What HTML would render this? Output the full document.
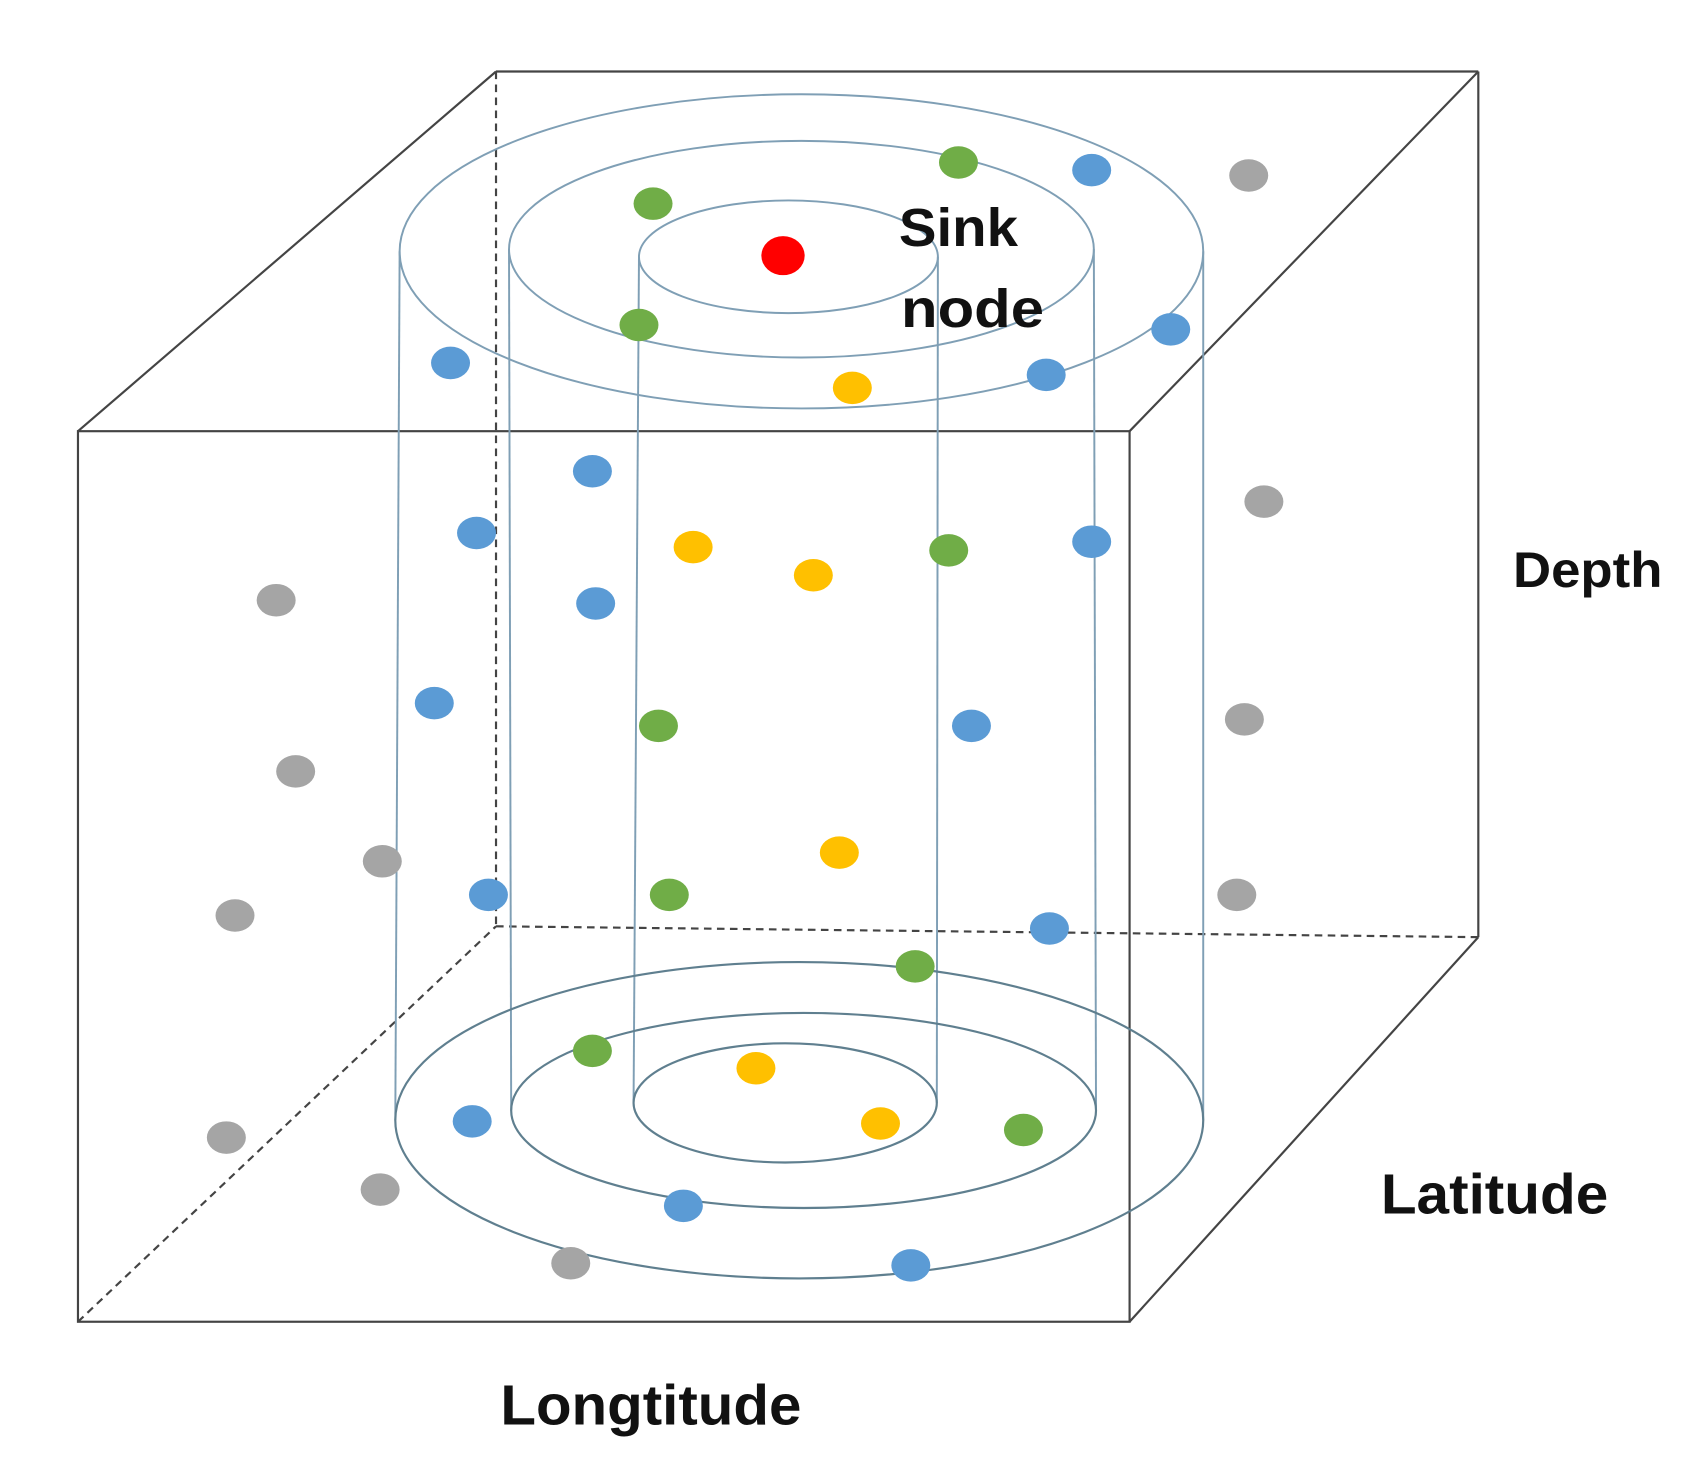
<!DOCTYPE html>
<html><head><style>html,body{margin:0;padding:0;background:#fff}svg{display:block}</style></head>
<body>
<svg width="1696" height="1468" viewBox="0 0 1566 1355" preserveAspectRatio="none" xmlns="http://www.w3.org/2000/svg">
<rect width="1566" height="1355" fill="#fff"/>
<g stroke="#444" stroke-width="2" fill="none">
<line x1="458" y1="66" x2="1365" y2="66"/>
<line x1="1365" y1="66" x2="1365" y2="865"/>
<line x1="72" y1="398" x2="458" y2="66"/>
<line x1="1043" y1="398" x2="1365" y2="66"/>
<line x1="1043" y1="1220" x2="1365" y2="865"/>
<rect x="72" y="398" width="971" height="822"/>
<g stroke-dasharray="7,5">
<line x1="458" y1="66" x2="458" y2="855"/>
<line x1="458" y1="855" x2="1365" y2="865"/>
<line x1="72" y1="1220" x2="458" y2="855"/>
</g>
</g>
<g fill="none" stroke="#7f9fb5" stroke-width="1.8">
<ellipse cx="740" cy="232" rx="371" ry="145"/>
<ellipse cx="740" cy="230" rx="270" ry="100"/>
<ellipse cx="728" cy="237" rx="138" ry="52"/>
<line x1="369" y1="232" x2="365" y2="1034"/>
<line x1="1111" y1="232" x2="1111" y2="1034"/>
<line x1="470" y1="230" x2="472" y2="1025"/>
<line x1="1010" y1="230" x2="1012" y2="1025"/>
<line x1="590" y1="237" x2="585" y2="1018"/>
<line x1="866" y1="237" x2="865" y2="1018"/>
</g>
<g fill="none" stroke="#5f7f8f" stroke-width="2">
<ellipse cx="738" cy="1034" rx="373" ry="146"/>
<ellipse cx="742" cy="1025" rx="270" ry="90"/>
<ellipse cx="725" cy="1018" rx="140" ry="55"/>
</g>
<g fill="#70ad47">
<ellipse cx="885" cy="150" rx="18" ry="15"/><ellipse cx="603" cy="188" rx="18" ry="15"/><ellipse cx="590" cy="300" rx="18" ry="15"/><ellipse cx="876" cy="508" rx="18" ry="15"/><ellipse cx="608" cy="670" rx="18" ry="15"/><ellipse cx="618" cy="826" rx="18" ry="15"/><ellipse cx="845" cy="892" rx="18" ry="15"/><ellipse cx="547" cy="970" rx="18" ry="15"/><ellipse cx="945" cy="1043" rx="18" ry="15"/>
</g>
<g fill="#5b9bd5">
<ellipse cx="1008" cy="157" rx="18" ry="15"/><ellipse cx="1081" cy="304" rx="18" ry="15"/><ellipse cx="966" cy="346" rx="18" ry="15"/><ellipse cx="416" cy="335" rx="18" ry="15"/><ellipse cx="547" cy="435" rx="18" ry="15"/><ellipse cx="440" cy="492" rx="18" ry="15"/><ellipse cx="550" cy="557" rx="18" ry="15"/><ellipse cx="1008" cy="500" rx="18" ry="15"/><ellipse cx="401" cy="649" rx="18" ry="15"/><ellipse cx="897" cy="670" rx="18" ry="15"/><ellipse cx="451" cy="826" rx="18" ry="15"/><ellipse cx="969" cy="857" rx="18" ry="15"/><ellipse cx="436" cy="1035" rx="18" ry="15"/><ellipse cx="631" cy="1113" rx="18" ry="15"/><ellipse cx="841" cy="1168" rx="18" ry="15"/>
</g>
<g fill="#a5a5a5">
<ellipse cx="1153" cy="162" rx="18" ry="15"/><ellipse cx="1167" cy="463" rx="18" ry="15"/><ellipse cx="255" cy="554" rx="18" ry="15"/><ellipse cx="1149" cy="664" rx="18" ry="15"/><ellipse cx="273" cy="712" rx="18" ry="15"/><ellipse cx="353" cy="795" rx="18" ry="15"/><ellipse cx="1142" cy="826" rx="18" ry="15"/><ellipse cx="217" cy="845" rx="18" ry="15"/><ellipse cx="209" cy="1050" rx="18" ry="15"/><ellipse cx="351" cy="1098" rx="18" ry="15"/><ellipse cx="527" cy="1166" rx="18" ry="15"/>
</g>
<g fill="#ffc000">
<ellipse cx="787" cy="358" rx="18" ry="15"/><ellipse cx="640" cy="505" rx="18" ry="15"/><ellipse cx="751" cy="531" rx="18" ry="15"/><ellipse cx="775" cy="787" rx="18" ry="15"/><ellipse cx="698" cy="986" rx="18" ry="15"/><ellipse cx="813" cy="1037" rx="18" ry="15"/>
</g>
<ellipse cx="723" cy="236" rx="20" ry="18" fill="#ff0000"/>
<g font-family="Liberation Sans, sans-serif" font-weight="bold" fill="#111">
<text x="830" y="227" font-size="50" textLength="110" lengthAdjust="spacingAndGlyphs">Sink</text>
<text x="832" y="302" font-size="50" textLength="132" lengthAdjust="spacingAndGlyphs">node</text>
<text x="1397" y="542" font-size="46" textLength="138" lengthAdjust="spacingAndGlyphs">Depth</text>
<text x="1275" y="1120" font-size="52" textLength="210" lengthAdjust="spacingAndGlyphs">Latitude</text>
<text x="462" y="1315" font-size="52" textLength="278" lengthAdjust="spacingAndGlyphs">Longtitude</text>
</g>
</svg>
</body></html>
